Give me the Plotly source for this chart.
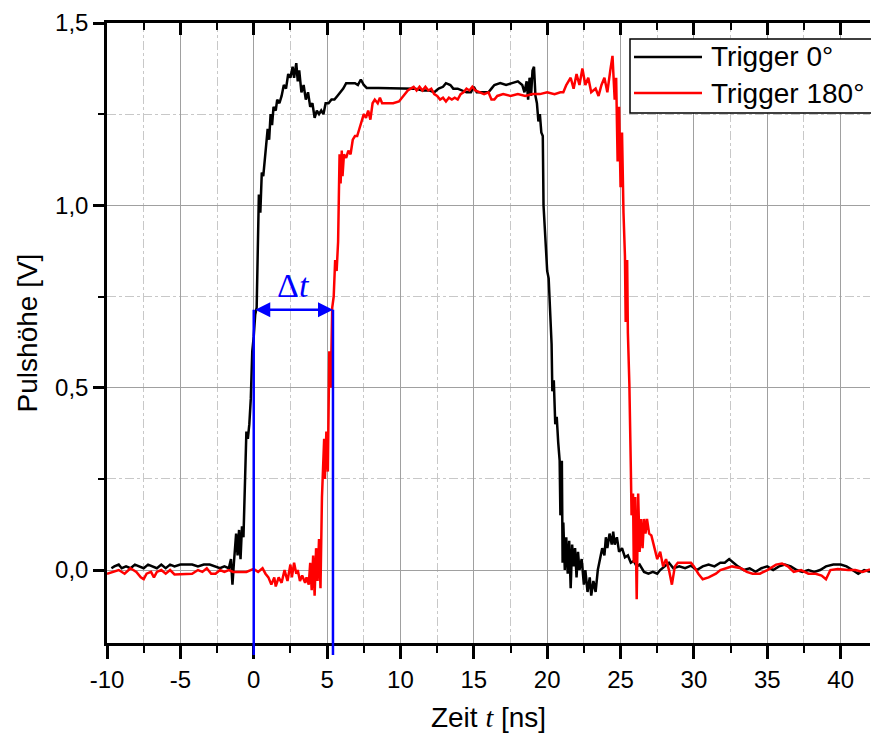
import plotly.graph_objects as go

# ---------------- data ----------------
t_black = [-9.7, -9.5, -9.2, -9.0, -8.7, -8.4, -8.1, -7.8, -7.5, -7.2, -6.9, -6.6, -6.3, -6.0, -5.7,
           -5.4, -5.0, -4.6, -4.2, -3.8, -3.4, -3.0, -2.6, -2.3, -2.0, -1.7, -1.55, -1.45, -1.35, -1.2,
           -1.1, -1.0, -0.9, -0.8, -0.7, -0.6, -0.5, -0.4, -0.3, -0.2, -0.1, 0.0, 0.1, 0.2, 0.3,
           0.35, 0.45, 0.55, 0.65, 0.75, 0.85, 0.95, 1.05, 1.15, 1.25, 1.35, 1.5, 1.6, 1.75, 1.9,
           2.05, 2.2, 2.35, 2.5, 2.65, 2.75, 2.9, 3.0, 3.1, 3.25, 3.4, 3.55, 3.7, 3.85, 4.0,
           4.15, 4.3, 4.45, 4.6, 4.75, 4.9, 5.1, 5.3, 5.5, 5.7, 5.9, 6.1, 6.3, 6.6, 6.9,
           7.1, 7.3, 7.5, 7.7, 8.5, 9.5, 10.6, 11.0, 11.5, 12.0, 12.3, 12.6, 12.9, 13.1, 13.4,
           13.6, 13.9, 14.2, 14.5, 14.8, 15.0, 15.2, 15.6, 16.0, 16.2, 16.4, 16.8, 17.2, 17.6, 18.0,
           18.3, 18.45, 18.6, 18.7, 18.8, 18.9, 19.0, 19.1, 19.2, 19.3, 19.4, 19.5, 19.6, 19.7, 19.75,
           19.8, 19.9, 20.0, 20.1, 20.2, 20.3, 20.35, 20.45, 20.55, 20.65, 20.75, 20.85, 20.9, 21.0, 21.05,
           21.1, 21.2, 21.3, 21.4, 21.5, 21.6, 21.7, 21.8, 21.9, 22.0, 22.1, 22.2, 22.35, 22.5, 22.6,
           22.75, 22.9, 23.0, 23.15, 23.3, 23.45, 23.6, 23.75, 23.9, 24.0, 24.1, 24.25, 24.4, 24.5, 24.6,
           24.75, 24.9, 25.1, 25.3, 25.5, 25.7, 25.9, 26.1, 26.3, 26.6, 26.9, 27.2, 27.5, 27.7, 28.0,
           28.3, 28.6, 29.0, 29.4, 29.8, 30.2, 30.6, 31.0, 31.4, 31.8, 32.1, 32.4, 32.7, 33.0, 33.4,
           33.8, 34.2, 34.6, 35.0, 35.4, 35.8, 36.2, 36.6, 37.0, 37.4, 37.8, 38.2, 38.6, 39.0, 39.5,
           40.0, 40.4, 40.8, 41.2, 41.6, 42.0]
v_black = [0.005, 0.01, 0.015, 0.005, 0.01, 0.005, 0.015, 0.01, 0.005, 0.015, 0.01, 0.005, 0.015, 0.005, 0.015,
           0.01, 0.015, 0.015, 0.015, 0.01, 0.015, 0.015, 0.01, 0.005, 0.01, 0.005, 0.03, -0.04, 0.02, 0.10,
           0.04, 0.11, 0.03, 0.12, 0.09, 0.27, 0.38, 0.36, 0.40, 0.47, 0.60, 0.64, 0.70, 0.72, 0.90,
           1.03, 0.98, 1.09, 1.08, 1.12, 1.17, 1.21, 1.18, 1.25, 1.22, 1.27, 1.26, 1.29, 1.28, 1.30,
           1.33, 1.32, 1.36, 1.35, 1.38, 1.35, 1.39, 1.34, 1.37, 1.31, 1.33, 1.29, 1.31, 1.27, 1.28,
           1.24, 1.26, 1.25, 1.26, 1.25, 1.28, 1.28, 1.29, 1.29, 1.30, 1.31, 1.32, 1.335, 1.335, 1.335,
           1.33, 1.345, 1.33, 1.322, 1.322, 1.322, 1.322, 1.32, 1.315, 1.315, 1.31, 1.32, 1.325, 1.335, 1.33,
           1.32, 1.32, 1.315, 1.31, 1.31, 1.325, 1.31, 1.31, 1.31, 1.32, 1.33, 1.335, 1.33, 1.335, 1.34,
           1.33, 1.31, 1.34, 1.29, 1.35, 1.30, 1.37, 1.38, 1.30, 1.28, 1.23, 1.25, 1.20, 1.19, 1.00,
           0.96, 0.86, 0.82, 0.80, 0.72, 0.62, 0.49, 0.52, 0.40, 0.42, 0.35, 0.30, 0.15, 0.30, 0.02,
           0.13, 0.0, 0.09, -0.01, 0.08, -0.05, 0.07, 0.01, 0.06, -0.02, 0.05, 0.0, 0.03, -0.04, 0.0,
           -0.06, -0.02, -0.07, -0.03, -0.06, 0.0, 0.03, 0.06, 0.04, 0.09, 0.06, 0.10, 0.07, 0.105, 0.07,
           0.09, 0.05, 0.06, 0.035, 0.04, 0.02, 0.025, 0.01, 0.015, -0.005, -0.01, -0.005, -0.01, 0.0, 0.01,
           0.02, 0.005, 0.01, 0.005, 0.012, 0.0, 0.01, 0.015, 0.01, 0.02, 0.02, 0.03, 0.02, 0.01, 0.0,
           0.005, -0.005, 0.005, 0.01, 0.0, 0.01, 0.015, 0.01, 0.0, -0.005, 0.0, -0.005, 0.0, 0.01, 0.015,
           0.015, 0.01, 0.0, -0.01, 0.0, -0.005]

t_red = [-10.0, -9.6, -9.2, -8.8, -8.4, -8.0, -7.7, -7.5, -7.3, -7.0, -6.8, -6.6, -6.3, -6.0, -5.7,
         -5.4, -5.0, -4.6, -4.2, -3.8, -3.5, -3.2, -2.9, -2.6, -2.3, -2.0, -1.7, -1.4, -1.0, -0.5,
         0.0, 0.3, 0.6, 0.8, 1.0, 1.2, 1.4, 1.5, 1.7, 1.9, 2.1, 2.3, 2.5, 2.6, 2.75,
         2.9, 3.0, 3.15, 3.3, 3.5, 3.6, 3.75, 3.85, 3.95, 4.05, 4.15, 4.25, 4.35, 4.45, 4.55,
         4.65, 4.7, 4.8, 4.85, 4.95, 5.05, 5.15, 5.25, 5.35, 5.45, 5.55, 5.65, 5.75, 5.8, 5.85,
         5.92, 6.0, 6.05, 6.15, 6.3, 6.45, 6.6, 6.75, 6.9, 7.05, 7.2, 7.35, 7.5, 7.65, 7.8,
         7.95, 8.1, 8.25, 8.45, 8.6, 8.75, 9.0, 9.5, 9.9, 10.1, 10.3, 10.5, 10.7, 10.9, 11.1,
         11.3, 11.5, 11.7, 11.9, 12.1, 12.3, 12.5, 12.7, 12.9, 13.1, 13.3, 13.5, 13.7, 13.9, 14.1,
         14.3, 14.5, 14.7, 14.9, 15.1, 15.4, 15.7, 16.0, 16.2, 16.4, 16.6, 17.0, 17.5, 18.0, 18.5,
         19.0, 19.5, 20.0, 20.5, 20.9, 21.1, 21.3, 21.6, 21.8, 22.0, 22.2, 22.4, 22.6, 22.8, 23.0,
         23.3, 23.5, 23.7, 23.9, 24.1, 24.3, 24.45, 24.6, 24.7, 24.8, 24.9, 25.0, 25.1, 25.2, 25.3,
         25.35, 25.45, 25.5, 25.6, 25.7, 25.75, 25.85, 25.9, 26.0, 26.1, 26.2, 26.3, 26.4, 26.5, 26.6,
         26.7, 26.8, 26.95, 27.1, 27.3, 27.5, 27.7, 27.9, 28.1, 28.3, 28.5, 28.7, 28.9, 29.4, 29.8,
         30.0, 30.3, 30.6, 31.0, 31.5, 31.8, 32.2, 32.6, 33.2, 33.6, 34.0, 34.5, 35.0, 35.6, 36.0,
         36.4, 36.8, 37.3, 37.8, 38.3, 38.7, 39.0, 39.3, 39.8, 40.5, 41.0, 41.5, 42.0]
v_red = [-0.01, -0.005, 0.0, -0.01, 0.005, -0.005, -0.02, -0.025, -0.01, -0.005, -0.02, -0.005, 0.0, -0.01, 0.0,
         -0.012, -0.012, -0.012, -0.01, 0.0, -0.005, 0.005, -0.01, -0.01, 0.0, -0.005, 0.0, -0.005, -0.005, -0.005,
         0.003, -0.005, 0.005, -0.01, -0.02, -0.04, -0.02, -0.045, -0.02, -0.035, 0.0, -0.03, 0.015, -0.02, 0.02,
         -0.01, 0.0, -0.03, -0.015, -0.035, -0.02, -0.04, 0.02, -0.055, 0.04, -0.07, 0.06, -0.03, 0.085, -0.05,
         0.20, 0.25, 0.36, 0.25, 0.38, 0.27, 0.60, 0.50, 0.72, 0.75, 0.85, 0.82, 0.90, 1.02, 1.14,
         1.06, 1.15, 1.08, 1.14, 1.13, 1.15, 1.14, 1.18, 1.19, 1.19, 1.21, 1.23, 1.25, 1.24, 1.26,
         1.235, 1.28, 1.29, 1.28, 1.295, 1.28, 1.28, 1.28, 1.285, 1.295, 1.305, 1.315, 1.32, 1.325, 1.315,
         1.325, 1.315, 1.325, 1.315, 1.32, 1.305, 1.30, 1.29, 1.295, 1.285, 1.295, 1.29, 1.295, 1.29, 1.305,
         1.31, 1.32, 1.315, 1.325, 1.315, 1.31, 1.305, 1.31, 1.29, 1.29, 1.30, 1.305, 1.30, 1.305, 1.30,
         1.305, 1.305, 1.31, 1.305, 1.31, 1.31, 1.33, 1.35, 1.32, 1.36, 1.33, 1.375, 1.33, 1.35, 1.31,
         1.32, 1.30, 1.33, 1.35, 1.31, 1.37, 1.41, 1.29, 1.35, 1.12, 1.27, 1.05, 1.20, 0.98, 0.86,
         0.68, 0.85, 0.65, 0.51, 0.28, 0.15, 0.21, 0.02, 0.20, -0.08, 0.21, 0.05, 0.14, 0.06, 0.14,
         0.10, 0.14, 0.10, 0.095, 0.06, 0.03, 0.05, 0.01, 0.03, 0.0, -0.04, 0.01, 0.02, 0.02, 0.02,
         0.01, -0.01, -0.025, -0.02, -0.01, 0.0, 0.005, 0.01, 0.005, -0.005, -0.01, -0.01, 0.0, 0.015, 0.018,
         0.01, -0.005, 0.0, -0.01, -0.01, -0.015, -0.025, 0.0, 0.003, 0.0, 0.0, -0.005, 0.002]

series_names = ["Trigger 0°", "Trigger 180°"]
series_colors = ["#000000", "#ff0000"]

x_range = [-10, 42]
y_range = [-0.2, 1.5]
x_tickvals = [-10, -5, 0, 5, 10, 15, 20, 25, 30, 35, 40]
x_ticktext = ["-10", "-5", "0", "5", "10", "15", "20", "25", "30", "35", "40"]
x_minorvals = [-7.5, -2.5, 2.5, 7.5, 12.5, 17.5, 22.5, 27.5, 32.5, 37.5]
y_tickvals = [0.0, 0.5, 1.0, 1.5]
y_ticktext = ["0,0", "0,5", "1,0", "1,5"]
y_minorvals = [0.25, 0.75, 1.25]

# Delta t marker
dt_start = 0.0
dt_end = 5.4
dt_level = 0.714
dt_line_bottom = -0.233

# ---------------- layout geometry (pixels) ----------------
W, H = 871, 742
M_L, M_R, M_T, M_B = 107, 1, 23, 99
PW = W - M_L - M_R
PH = H - M_T - M_B

def px_x(px):
    return (px - M_L) / PW

def px_y(py):
    return (H - M_B - py) / PH

def to_paper(v):
    return (v - y_range[0]) / (y_range[1] - y_range[0])

# ---------------- figure ----------------
fig = go.Figure()
for t, v, name, col in [(t_black, v_black, series_names[0], series_colors[0]),
                        (t_red, v_red, series_names[1], series_colors[1])]:
    fig.add_trace(go.Scatter(x=t, y=v, mode="lines", name=name, showlegend=False,
                             line=dict(color=col, width=2.5)))

# dummy trace so the top (mirror) axis gets drawn
fig.add_trace(go.Scatter(x=[x_range[0]], y=[0], xaxis="x2", mode="lines",
                         showlegend=False, hoverinfo="skip", line=dict(width=0)))

blue = "#0000ff"
for xv in [dt_start, dt_end]:
    fig.add_shape(type="line", xref="x", yref="paper", x0=xv, x1=xv,
                  y0=to_paper(dt_line_bottom), y1=to_paper(dt_level),
                  line=dict(color=blue, width=2.5), layer="above")

fig.add_annotation(x=dt_end, y=dt_level, ax=dt_start, ay=dt_level,
                   xref="x", yref="y", axref="x", ayref="y",
                   text="", showarrow=True, arrowside="end+start",
                   arrowhead=2, arrowsize=1.2, arrowwidth=2.5, arrowcolor=blue)
fig.add_annotation(x=(dt_start + dt_end) / 2, y=dt_level, xref="x", yref="y",
                   text="Δ<i>t</i>", showarrow=False, yanchor="bottom", yshift=4,
                   font=dict(family="Liberation Serif", size=34, color=blue))

# legend box drawn by hand (paper coordinates)
fig.add_shape(type="rect", xref="paper", yref="paper",
              x0=px_x(630), x1=px_x(880), y0=px_y(113), y1=px_y(39),
              line=dict(color="#000000", width=1.5), fillcolor="white", layer="above")
for i, (name, col) in enumerate(zip(series_names, series_colors)):
    row_y = 57 + 36 * i
    fig.add_shape(type="line", xref="paper", yref="paper",
                  x0=px_x(634), x1=px_x(702), y0=px_y(row_y), y1=px_y(row_y),
                  line=dict(color=col, width=2.5), layer="above")
    fig.add_annotation(x=px_x(709), y=px_y(row_y), xref="paper", yref="paper",
                       text=name, showarrow=False, xanchor="left", yanchor="middle",
                       font=dict(size=28, color="#000000"))

grid_major = "#a0a0a0"
grid_minor = "#c8c8c8"

fig.update_layout(
    width=W, height=H,
    margin=dict(l=M_L, r=M_R, t=M_T, b=M_B),
    paper_bgcolor="white", plot_bgcolor="white",
    font=dict(family="Liberation Sans, Arial, sans-serif", color="#000000"),
    showlegend=False,
    xaxis=dict(range=x_range, tickmode="array", tickvals=x_tickvals, ticktext=x_ticktext,
               ticks="outside", ticklen=13, tickwidth=2.5, tickcolor="#000000",
               showline=True, linewidth=2.5, linecolor="#000000",
               showgrid=True, gridcolor=grid_major, gridwidth=1, zeroline=False,
               tickfont=dict(size=24),
               minor=dict(tickmode="array", tickvals=x_minorvals, ticks="outside", ticklen=7,
                          tickwidth=2, tickcolor="#000000", showgrid=True,
                          gridcolor=grid_minor, griddash="dashdot", gridwidth=1),
               title=dict(text="Zeit <span style='font-family:Liberation Serif'><i>t</i></span> [ns]",
                          font=dict(size=28), standoff=16)),
    xaxis2=dict(range=x_range, overlaying="x", side="top", anchor="y",
                tickmode="array", tickvals=x_tickvals, showticklabels=False,
                ticks="inside", ticklen=12, tickwidth=2.5, tickcolor="#000000",
                showline=True, linewidth=2.5, linecolor="#000000",
                showgrid=False, zeroline=False,
                minor=dict(tickmode="array", tickvals=x_minorvals, ticks="inside", ticklen=7,
                           tickwidth=2, tickcolor="#000000", showgrid=False)),
    yaxis=dict(range=y_range, tickmode="array", tickvals=y_tickvals, ticktext=y_ticktext,
               ticks="outside", ticklen=11, tickwidth=2.5, tickcolor="#000000",
               showline=True, linewidth=2.5, linecolor="#000000",
               showgrid=True, gridcolor=grid_major, gridwidth=1, zeroline=False,
               tickfont=dict(size=24),
               minor=dict(tickmode="array", tickvals=y_minorvals, ticks="outside", ticklen=6,
                          tickwidth=2, tickcolor="#000000", showgrid=True,
                          gridcolor=grid_minor, griddash="dashdot", gridwidth=1),
               title=dict(text="Pulshöhe [V]", font=dict(size=28), standoff=10)),
)

fig.write_html("out.html")
